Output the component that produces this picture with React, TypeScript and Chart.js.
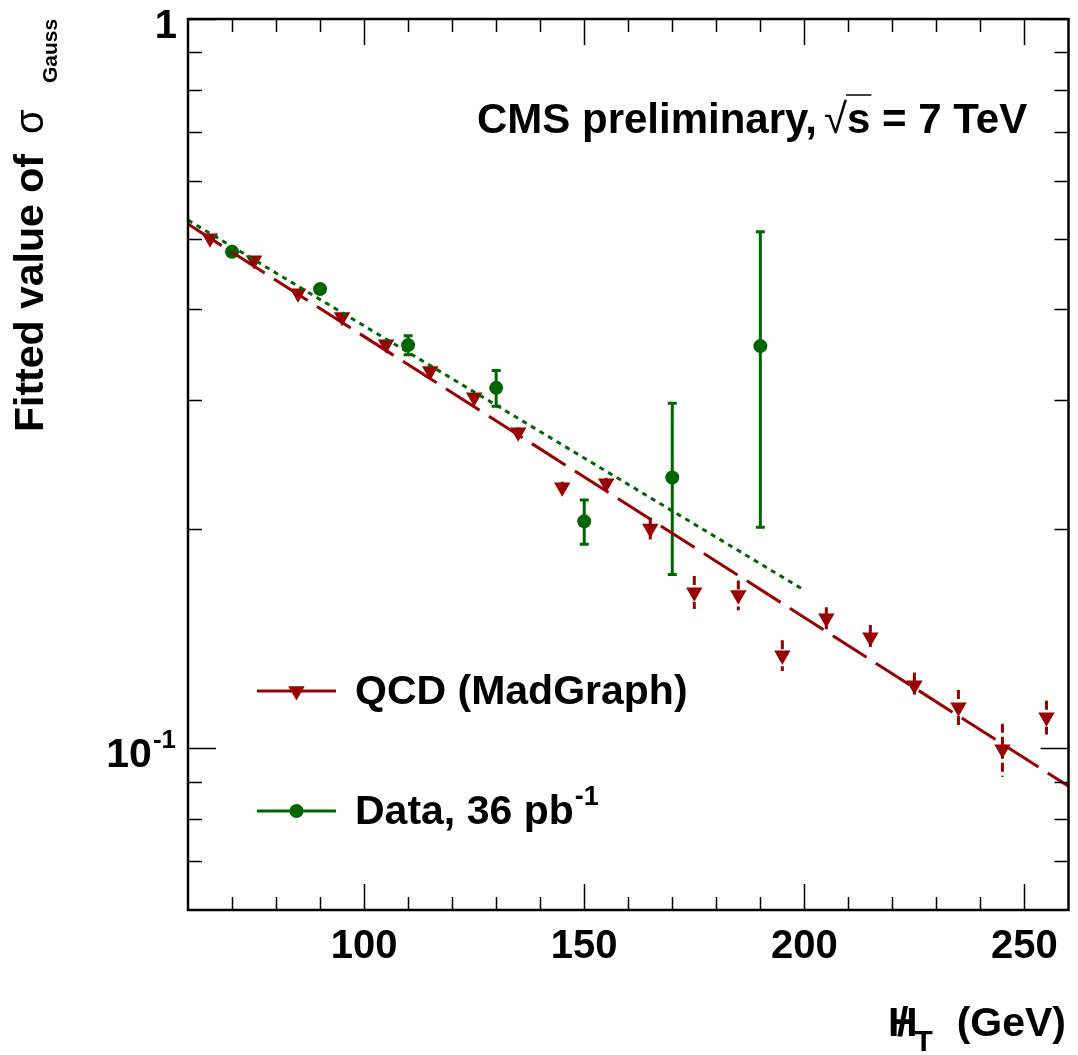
import React, { useEffect, useRef } from 'react';
import { Chart, registerables } from 'chart.js';

Chart.register(...registerables);

// ---------- data ----------
const qcdX = [65, 75, 85, 95, 105, 115, 125, 135, 145, 155, 165, 175, 185, 195, 205, 215, 225, 235, 245, 255];
const qcdY = [0.5006, 0.467, 0.4208, 0.3903, 0.3582, 0.329, 0.303, 0.2713, 0.228, 0.2309, 0.2002, 0.1637, 0.1622, 0.1341, 0.1508, 0.142, 0.122, 0.1138, 0.0997, 0.1103];
const qcdErr = [0.003, 0.003, 0.003, 0.003, 0.003, 0.003, 0.004, 0.004, 0.004, 0.004, 0.007, 0.0085, 0.0076, 0.0065, 0.0053, 0.0056, 0.005, 0.0064, 0.0083, 0.0059];

const dataX = [70, 90, 110, 130, 150, 170, 190];
const dataY = [0.4796, 0.4262, 0.3571, 0.312, 0.2047, 0.2351, 0.356];
const dataErr = [0.004, 0.004, 0.0106, 0.0176, 0.0143, 0.062, 0.155];

const qcdFitX = [60, 260];
const qcdFitY = [0.5233, 0.0887];
const dataFitX = [60, 200];
const dataFitY = [0.5299, 0.1647];

const xMajorTicks = [100, 150, 200, 250];
const xTickLabels = ['100', '150', '200', '250'];
const yMinorTicks = [0.07, 0.08, 0.09, 0.2, 0.3, 0.4, 0.5, 0.6, 0.7, 0.8, 0.9];
const yMajorTicks = [0.1, 1];

const legendLabels = ['QCD (MadGraph)', 'Data, 36 pb'];
const cmsLabel = 'CMS preliminary,';
const energyLabel = ' = 7 TeV';

const RED = '#990000';
const GREEN = '#006600';
const FONT = '"Liberation Sans", Arial, Helvetica, sans-serif';
const f = (size: number, bold = true) => `${bold ? 'bold ' : ''}${size}px ${FONT}`;

const errorBarPlugin = {
  id: 'errorBars',
  beforeDatasetsDraw(chart: any) {
    const { ctx, scales } = chart;
    const x = scales.x, y = scales.y;
    ctx.save();
    ctx.lineCap = 'butt';
    ctx.strokeStyle = RED;
    ctx.lineWidth = 3;
    ctx.setLineDash([9, 4]);
    qcdX.forEach((xv, i) => {
      const px = x.getPixelForValue(xv);
      ctx.beginPath();
      ctx.moveTo(px, y.getPixelForValue(qcdY[i] + qcdErr[i]));
      ctx.lineTo(px, y.getPixelForValue(qcdY[i] - qcdErr[i]));
      ctx.stroke();
    });
    ctx.setLineDash([]);
    ctx.strokeStyle = GREEN;
    dataX.forEach((xv, i) => {
      const px = x.getPixelForValue(xv);
      const top = y.getPixelForValue(dataY[i] + dataErr[i]);
      const bot = y.getPixelForValue(dataY[i] - dataErr[i]);
      ctx.beginPath();
      ctx.moveTo(px, top);
      ctx.lineTo(px, bot);
      ctx.moveTo(px - 4.5, top);
      ctx.lineTo(px + 4.5, top);
      ctx.moveTo(px - 4.5, bot);
      ctx.lineTo(px + 4.5, bot);
      ctx.stroke();
    });
    ctx.restore();
  },
};

const framePlugin = {
  id: 'frame',
  afterDraw(chart: any) {
    const { ctx, chartArea: a, scales } = chart;
    const x = scales.x, y = scales.y;
    ctx.save();
    ctx.strokeStyle = '#000';
    ctx.lineWidth = 1.5;
    ctx.setLineDash([]);
    ctx.beginPath();
    for (let v = 70; v <= 250; v += 10) {
      const px = Math.round(x.getPixelForValue(v)) + 0.5;
      const len = xMajorTicks.includes(v) ? 26 : 13;
      ctx.moveTo(px, a.bottom);
      ctx.lineTo(px, a.bottom - len);
      ctx.moveTo(px, a.top);
      ctx.lineTo(px, a.top + len);
    }
    yMinorTicks.forEach((v) => {
      const py = Math.round(y.getPixelForValue(v)) + 0.5;
      ctx.moveTo(a.left, py);
      ctx.lineTo(a.left + 14, py);
      ctx.moveTo(a.right, py);
      ctx.lineTo(a.right - 14, py);
    });
    yMajorTicks.forEach((v) => {
      const py = Math.round(y.getPixelForValue(v)) + 0.5;
      ctx.moveTo(a.left, py);
      ctx.lineTo(a.left + 28, py);
      ctx.moveTo(a.right, py);
      ctx.lineTo(a.right - 28, py);
    });
    ctx.stroke();
    ctx.lineWidth = 2.5;
    ctx.strokeRect(a.left, a.top, a.right - a.left, a.bottom - a.top);

    // tick labels
    ctx.fillStyle = '#000';
    ctx.font = f(40);
    ctx.textAlign = 'center';
    ctx.textBaseline = 'alphabetic';
    xMajorTicks.forEach((v, i) => {
      ctx.fillText(xTickLabels[i], x.getPixelForValue(v), a.bottom + 48);
    });
    ctx.textAlign = 'right';
    ctx.fillText('1', 177, y.getPixelForValue(1) + 19);
    const p01 = y.getPixelForValue(0.1);
    ctx.font = f(26);
    const supW = ctx.measureText('-1').width;
    ctx.textAlign = 'left';
    ctx.fillText('-1', 176 - supW, p01);
    ctx.font = f(41);
    ctx.textAlign = 'right';
    ctx.fillText('10', 176 - supW - 1, p01 + 19);

    // y axis title (rotated)
    ctx.save();
    ctx.translate(43, 432);
    ctx.rotate(-Math.PI / 2);
    ctx.textAlign = 'left';
    ctx.font = f(41);
    ctx.fillText('Fitted value of ', 0, 0);
    ctx.font = f(40, false);
    ctx.fillText('σ', 298, 0);
    ctx.font = f(21);
    ctx.fillText('Gauss', 349, 14);
    ctx.restore();

    // x axis title
    ctx.textAlign = 'left';
    ctx.font = f(41);
    const hx = 888, hb = 1036;
    ctx.fillText('H', hx, hb);
    const hw = ctx.measureText('H').width;
    const sw = ctx.measureText('/').width;
    ctx.fillText('/', hx + (hw - sw) / 2, hb);
    ctx.font = f(30);
    ctx.fillText('T', hx + hw - 3, hb + 15);
    ctx.font = f(41);
    ctx.textAlign = 'right';
    ctx.fillText('(GeV)', 1066, hb);

    // CMS label
    ctx.textAlign = 'left';
    let cx = 477;
    const cb = 133;
    ctx.font = f(42);
    ctx.fillText(cmsLabel, cx, cb);
    cx += ctx.measureText(cmsLabel).width + 7;
    ctx.font = f(42, false);
    ctx.fillText('√', cx, cb);
    const rw = ctx.measureText('√').width;
    cx += rw;
    ctx.font = f(42);
    ctx.fillText('s', cx, cb);
    const ssw = ctx.measureText('s').width;
    ctx.lineWidth = 1.5;
    ctx.beginPath();
    ctx.moveTo(cx - 1, cb - 38);
    ctx.lineTo(cx + ssw + 1, cb - 38);
    ctx.stroke();
    cx += ssw;
    ctx.fillText(energyLabel, cx, cb);

    // legend
    const legRows = [
      { y: 691, color: RED, label: legendLabels[0], marker: 'tri' },
      { y: 811, color: GREEN, label: legendLabels[1], marker: 'circ' },
    ];
    legRows.forEach((r) => {
      ctx.strokeStyle = r.color;
      ctx.fillStyle = r.color;
      ctx.lineWidth = 3;
      ctx.beginPath();
      ctx.moveTo(257, r.y);
      ctx.lineTo(336, r.y);
      ctx.stroke();
      ctx.beginPath();
      if (r.marker === 'tri') {
        const rr = 9.5;
        ctx.moveTo(296.5, r.y + rr);
        ctx.lineTo(296.5 - rr * 0.866, r.y - rr * 0.5);
        ctx.lineTo(296.5 + rr * 0.866, r.y - rr * 0.5);
        ctx.closePath();
      } else {
        ctx.arc(296.5, r.y, 7, 0, Math.PI * 2);
      }
      ctx.fill();
      ctx.fillStyle = '#000';
      ctx.font = f(41);
      ctx.textAlign = 'left';
      ctx.fillText(r.label, 355, r.y + 13);
      if (r.marker === 'circ') {
        const w = ctx.measureText(r.label).width;
        ctx.font = f(27);
        ctx.fillText('-1', 355 + w + 1, r.y - 6);
      }
    });
    ctx.restore();
  },
};

export default function App() {
  const ref = useRef<HTMLCanvasElement>(null);
  useEffect(() => {
    if (!ref.current) return;
    const chart = new Chart(ref.current, {
      type: 'scatter',
      data: {
        datasets: [
          {
            label: 'QCD fit',
            data: qcdFitX.map((v, i) => ({ x: v, y: qcdFitY[i] })),
            showLine: true,
            borderColor: RED,
            borderWidth: 3,
            borderDash: [40, 11],
            pointRadius: 0,
            order: 1,
          },
          {
            label: 'Data fit',
            data: dataFitX.map((v, i) => ({ x: v, y: dataFitY[i] })),
            showLine: true,
            borderColor: GREEN,
            borderWidth: 3,
            borderDash: [5, 5],
            pointRadius: 0,
            order: 0,
          },
          {
            label: 'QCD (MadGraph)',
            data: qcdX.map((v, i) => ({ x: v, y: qcdY[i] })),
            showLine: false,
            pointStyle: 'triangle',
            rotation: 180,
            pointRadius: 9.5,
            pointBackgroundColor: RED,
            pointBorderColor: RED,
            pointBorderWidth: 0,
            order: 3,
          },
          {
            label: 'Data, 36 pb-1',
            data: dataX.map((v, i) => ({ x: v, y: dataY[i] })),
            showLine: false,
            pointStyle: 'circle',
            pointRadius: 7,
            pointBackgroundColor: GREEN,
            pointBorderColor: GREEN,
            pointBorderWidth: 0,
            order: 2,
          },
        ],
      },
      options: {
        animation: false,
        responsive: false,
        devicePixelRatio: 1,
        layout: { padding: { left: 0, top: 19, right: 8, bottom: 0 } },
        plugins: { legend: { display: false }, tooltip: { enabled: false } },
        scales: {
          x: {
            type: 'linear',
            min: 60,
            max: 260,
            grid: { display: false, drawTicks: false },
            border: { display: false },
            ticks: { display: false },
            afterFit: (s: any) => { s.height = 145; },
          },
          y: {
            type: 'logarithmic',
            min: 0.06,
            max: 1,
            grid: { display: false, drawTicks: false },
            border: { display: false },
            ticks: { display: false },
            afterFit: (s: any) => { s.width = 188; },
          },
        },
      },
      plugins: [errorBarPlugin, framePlugin],
    } as any);
    return () => chart.destroy();
  }, []);
  return (
    <div style={{ position: 'absolute', left: 0, top: 0, width: 1078, height: 1055, background: '#fff' }}>
      <canvas ref={ref} width={1078} height={1055} style={{ width: 1078, height: 1055, display: 'block' }} />
    </div>
  );
}
